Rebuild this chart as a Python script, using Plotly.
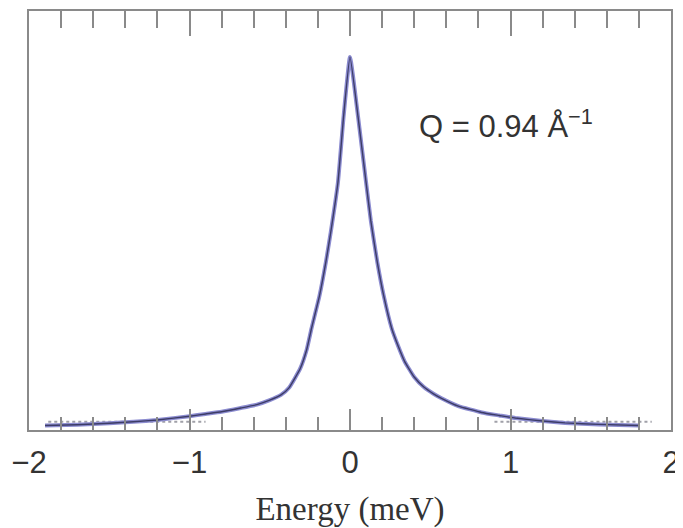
import plotly.graph_objects as go

# Energy (meV) and intensity (arbitrary units, peak = 1)
energy = [-1.9, -1.7, -1.5, -1.35, -1.2, -1.0, -0.9, -0.8, -0.68, -0.58, -0.5, -0.43, -0.38,
          -0.31, -0.27, -0.24, -0.19, -0.15, -0.12, -0.075, -0.04, 0.0,
          0.05, 0.10, 0.13, 0.17, 0.21, 0.26, 0.30, 0.34, 0.40, 0.46, 0.52, 0.57,
          0.675, 0.82, 0.93, 1.03, 1.2, 1.34, 1.55, 1.8]
intensity = [0.012, 0.014, 0.018, 0.022, 0.027, 0.037, 0.043, 0.049, 0.059, 0.068, 0.080, 0.094, 0.113,
             0.165, 0.215, 0.272, 0.36, 0.451, 0.53, 0.664, 0.84, 1.0,
             0.84, 0.664, 0.56, 0.45, 0.36, 0.272, 0.225, 0.184, 0.142, 0.115, 0.097, 0.085,
             0.064, 0.047, 0.039, 0.032, 0.024, 0.019, 0.015, 0.012]

# flat background visible in the tails
bg_energy = [-1.88, -0.9, None, 0.9, 1.88]
bg_intensity = [0.022, 0.022, None, 0.022, 0.022]

x_ticks = [-2, -1, 0, 1, 2]
x_labels = ["\u22122", "\u22121", "0", "1", "2"]

fig = go.Figure()
fig.add_trace(go.Scatter(x=bg_energy, y=bg_intensity, mode="lines",
                         line=dict(color="#a0a0a8", width=2, dash="dot"),
                         showlegend=False, hoverinfo="skip"))
fig.add_trace(go.Scatter(x=energy, y=intensity, mode="lines",
                         line=dict(color="#8c8cd0", width=4, shape="spline", smoothing=0.4),
                         showlegend=False))
fig.add_trace(go.Scatter(x=energy, y=intensity, mode="lines",
                         line=dict(color="#3c3c66", width=1.4, shape="spline", smoothing=0.4),
                         showlegend=False))
# invisible trace on top axis
fig.add_trace(go.Scatter(x=[-2, 2], y=[0, 0], xaxis="x2", mode="lines",
                         line=dict(width=0), showlegend=False, hoverinfo="skip"))

axis_col = "#8a8a8a"
fig.update_layout(
    width=675, height=520,
    margin=dict(l=20, r=12, t=3, b=95),
    paper_bgcolor="white", plot_bgcolor="white",
    xaxis=dict(range=[-2, 2], tickvals=x_ticks, ticktext=x_labels, ticklabeloverflow="allow",
               ticklabelstandoff=4,
               ticks="inside", ticklen=21, tickwidth=2, tickcolor=axis_col,
               minor=dict(dtick=0.2, ticks="inside", ticklen=13, tickwidth=2, tickcolor=axis_col),
               showline=True, linecolor=axis_col, linewidth=2, showgrid=False, zeroline=False,
               tickfont=dict(family="Liberation Sans, Arial", size=31, color="#333333"),
               title=dict(text="Energy (meV)", standoff=22,
                          font=dict(family="Liberation Serif, Times New Roman", size=33, color="#333333"))),
    xaxis2=dict(range=[-2, 2], overlaying="x", side="top", tickvals=x_ticks, showticklabels=False,
                ticks="inside", ticklen=25, tickwidth=2, tickcolor=axis_col,
                minor=dict(dtick=0.2, ticks="inside", ticklen=17, tickwidth=2, tickcolor=axis_col),
                showline=True, linecolor=axis_col, linewidth=2, showgrid=False, zeroline=False),
    yaxis=dict(range=[0, 1.123], showticklabels=False, ticks="", showgrid=False, zeroline=False,
               showline=True, mirror=True, linecolor=axis_col, linewidth=2),
    annotations=[dict(x=0.42, y=0.82, xref="x", yref="y", xanchor="left", yanchor="middle",
                      text="Q = 0.94 \u00c5<sup>\u22121</sup>", showarrow=False,
                      font=dict(family="Liberation Sans, Arial", size=31, color="#333333"))],
)

fig.write_html("out.html", config={"displayModeBar": False})
